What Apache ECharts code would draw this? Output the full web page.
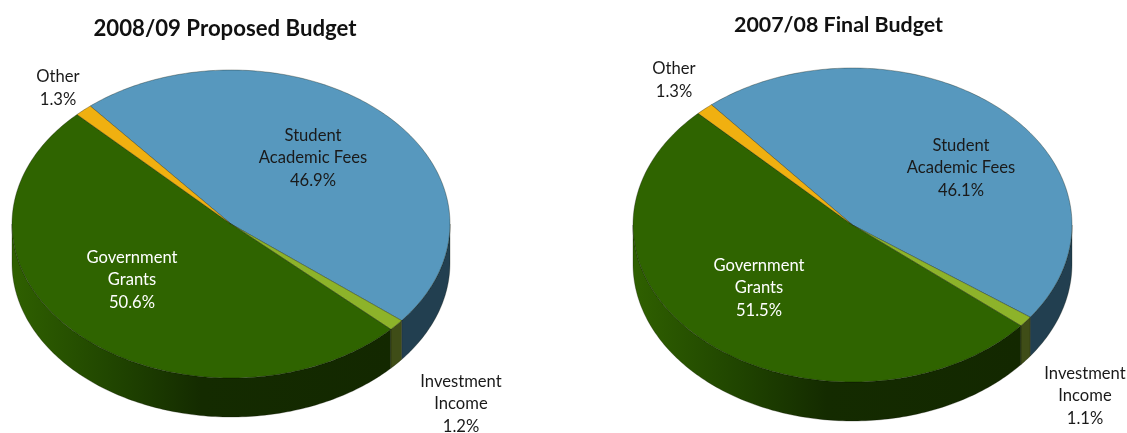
<!DOCTYPE html>
<html>
<head>
<meta charset="utf-8">
<style>html,body{margin:0;padding:0;background:#fff}#c{width:1127px;height:433px}</style>
<script src="https://cdn.jsdelivr.net/npm/echarts@6/dist/echarts.min.js"></script>
</head>
<body>
<div id="c"></div>
<script>
// ---- data ----
var categories = ['Student\nAcademic Fees', 'Investment\nIncome', 'Government\nGrants', 'Other'];
var budget0809 = [46.9, 1.2, 50.6, 1.3];
var budget0708 = [46.1, 1.1, 51.5, 1.3];
var titles = ['2008/09 Proposed Budget', '2007/08 Final Budget'];

// ---- styles and layout ----
var topColors = ['#5798BE', '#8DB32A', '#2F6400', '#F0B010'];
var sideColors = [
  '#223F50',
  '#3F4D17',
  new echarts.graphic.LinearGradient(0, 0, 1, 0, [
    {offset: 0, color: '#2F6000'},
    {offset: 0.25, color: '#214700'},
    {offset: 0.5, color: '#142B00'},
    {offset: 1, color: '#132800'}
  ]),
  '#8A6508'
];
var labelColors = ['#1a1a1a', '#1a1a1a', '#ffffff', '#1a1a1a'];
var pies = [
  {cx: 231, cy: 224, rx: 219, ry: 154, depth: 39, start: 320,
   labels: [[313, 158], [461, 404], [132, 280], [58, 88]]},
  {cx: 852.5, cy: 225, rx: 219.5, ry: 157, depth: 39, start: 320,
   labels: [[961, 168], [1085, 396], [759, 288], [674, 80]]}
];
var outline = 'rgba(10,15,0,0.45)';

function rimPoint(p, deg, dy) {
  var a = deg * Math.PI / 180;
  return [p.cx + p.rx * Math.sin(a), p.cy - p.ry * Math.cos(a) + dy];
}
function arc(p, from, to, dy) {
  var pts = [], n = Math.max(2, Math.ceil(Math.abs(to - from)));
  for (var i = 0; i <= n; i++) pts.push(rimPoint(p, from + (to - from) * i / n, dy));
  return pts;
}
function pieSeries(values, p) {
  var total = values.reduce(function (a, b) { return a + b; }, 0);
  return {
    type: 'custom',
    coordinateSystem: 'none',
    silent: true,
    animation: false,
    data: values.map(function (v) { return [v]; }),
    renderItem: function (params, api) {
      var i = params.dataIndex, before = 0;
      for (var k = 0; k < i; k++) before += values[k];
      var from = p.start + before / total * 360;
      var to = from + api.value(0) / total * 360;
      var children = [];
      // visible front wall: rim angles 90..270 clockwise from the top (also checked one turn up)
      [0, 360].forEach(function (turn) {
        var a = Math.max(from, 90 + turn), b = Math.min(to, 270 + turn);
        if (b > a) {
          var top = arc(p, a, b, 0), low = arc(p, b, a, p.depth);
          children.push({
            type: 'polygon',
            shape: {points: top.concat(low)},
            style: {fill: sideColors[i], stroke: outline, lineWidth: 0.6}
          });
        }
      });
      children.push({
        type: 'polygon',
        shape: {points: [[p.cx, p.cy]].concat(arc(p, from, to, 0))},
        style: {fill: topColors[i], stroke: outline, lineWidth: 0.7}
      });
      var lab = p.labels[i];
      children.push({
        type: 'text',
        z2: 10,
        x: lab[0], y: lab[1],
        style: {
          text: categories[i] + '\n' + api.value(0).toFixed(1) + '%',
          align: 'center', verticalAlign: 'middle',
          fontFamily: 'Lato', fontSize: 16.6, lineHeight: 22.5,
          fill: labelColors[i]
        }
      });
      return {type: 'group', children: children};
    }
  };
}

var chart = echarts.init(document.getElementById('c'), null, {renderer: 'canvas'});
chart.setOption({
  animation: false,
  backgroundColor: '#ffffff',
  title: [
    {text: titles[0], left: 220, top: 13, textAlign: 'center',
     textStyle: {fontFamily: 'Lato', fontWeight: 'bold', fontSize: 22.2, color: '#111'}},
    {text: titles[1], left: 833.5, top: 10, textAlign: 'center',
     textStyle: {fontFamily: 'Lato', fontWeight: 'bold', fontSize: 21.4, color: '#111'}}
  ],
  series: [pieSeries(budget0809, pies[0]), pieSeries(budget0708, pies[1])]
});
</script>
</body>
</html>
